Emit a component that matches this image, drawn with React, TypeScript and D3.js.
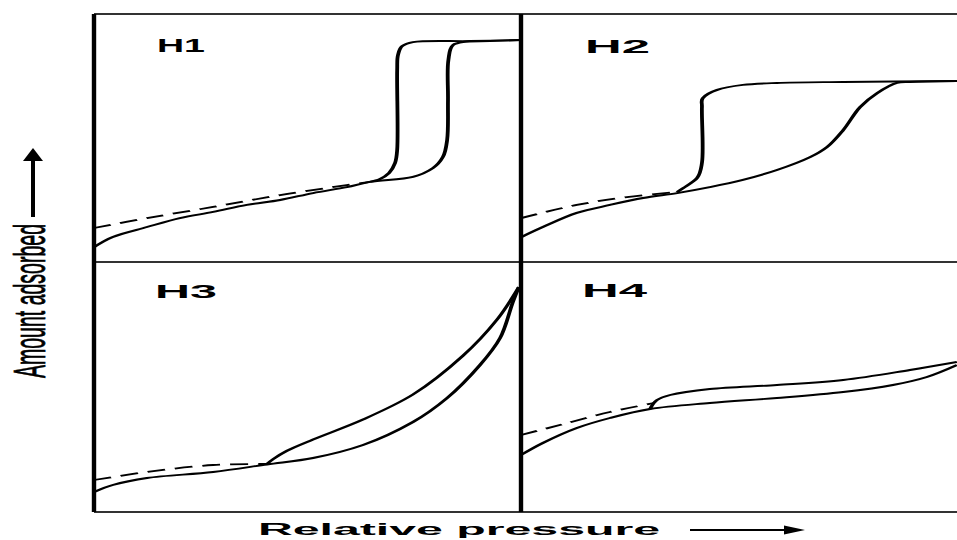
import React from "react";
import * as d3 from "d3";

type Pt = [number, number];

// Panel names (row-major: top-left, top-right, bottom-left, bottom-right)
const panelLabels = ["H1", "H2", "H3", "H4"];

// Axis titles
const xTitle = "Relative pressure";
const yTitle = "Amount adsorbed";

// H1 – relative pressure (0..1) vs amount adsorbed (0..1, panel-relative)
const h1Adsorption: Pt[] = [
  [0, 0.06], [0.044, 0.101], [0.124, 0.141], [0.201, 0.177], [0.279, 0.202],
  [0.358, 0.23], [0.436, 0.25], [0.513, 0.278], [0.592, 0.302], [0.646, 0.323],
  [0.747, 0.343], [0.794, 0.379], [0.817, 0.423], [0.827, 0.492], [0.829, 0.653],
  [0.830, 0.815], [0.841, 0.875], [0.864, 0.887], [0.927, 0.891], [1.0, 0.895],
];
const h1Desorption: Pt[] = [
  [1.0, 0.895], [0.88, 0.891], [0.747, 0.887], [0.722, 0.871], [0.712, 0.835],
  [0.710, 0.774], [0.710, 0.452], [0.705, 0.399], [0.691, 0.359], [0.670, 0.335],
  [0.646, 0.323],
];
const h1Dashed: Pt[] = [
  [0, 0.137], [0.124, 0.177], [0.279, 0.222], [0.436, 0.27], [0.592, 0.31], [0.646, 0.323],
];

// H2
const h2Adsorption: Pt[] = [
  [0, 0.1], [0.05, 0.141], [0.128, 0.198], [0.204, 0.23], [0.28, 0.258],
  [0.358, 0.278], [0.433, 0.302], [0.509, 0.331], [0.587, 0.371], [0.663, 0.423],
  [0.702, 0.464], [0.739, 0.532], [0.778, 0.625], [0.817, 0.681], [0.862, 0.722],
  [0.892, 0.726], [1.0, 0.73],
];
const h2Desorption: Pt[] = [
  [1.0, 0.73], [0.739, 0.726], [0.587, 0.722], [0.509, 0.714], [0.45, 0.694],
  [0.417, 0.661], [0.415, 0.625], [0.415, 0.399], [0.404, 0.339], [0.372, 0.298],
  [0.358, 0.282],
];
const h2Dashed: Pt[] = [
  [0, 0.177], [0.128, 0.23], [0.243, 0.262], [0.358, 0.282],
];

// H3
const h3Adsorption: Pt[] = [
  [0, 0.08], [0.044, 0.108], [0.124, 0.136], [0.279, 0.16], [0.405, 0.19],
  [0.513, 0.216], [0.63, 0.268], [0.747, 0.36], [0.827, 0.456], [0.904, 0.588],
  [0.951, 0.696], [0.981, 0.84], [0.995, 0.9],
];
const h3Desorption: Pt[] = [
  [0.995, 0.9], [0.944, 0.77], [0.864, 0.625], [0.747, 0.47], [0.63, 0.37],
  [0.513, 0.29], [0.452, 0.245], [0.42, 0.212], [0.405, 0.192],
];
const h3Dashed: Pt[] = [
  [0, 0.128], [0.124, 0.16], [0.279, 0.188], [0.405, 0.192],
];

// H4
const h4Adsorption: Pt[] = [
  [0, 0.228], [0.05, 0.276], [0.128, 0.336], [0.204, 0.376], [0.296, 0.412],
  [0.433, 0.436], [0.587, 0.456], [0.739, 0.48], [0.853, 0.508], [0.931, 0.54],
  [1.0, 0.588],
];
const h4Desorption: Pt[] = [
  [1.0, 0.6], [0.892, 0.568], [0.739, 0.528], [0.587, 0.508], [0.433, 0.492],
  [0.342, 0.468], [0.312, 0.448], [0.296, 0.412],
];
const h4Dashed: Pt[] = [
  [0, 0.308], [0.089, 0.348], [0.204, 0.4], [0.305, 0.436],
];

const panelCurves = [
  { ads: h1Adsorption, des: h1Desorption, dash: h1Dashed },
  { ads: h2Adsorption, des: h2Desorption, dash: h2Dashed },
  { ads: h3Adsorption, des: h3Desorption, dash: h3Dashed },
  { ads: h4Adsorption, des: h4Desorption, dash: h4Dashed },
];

// Layout (inner coordinates; the whole drawing is stretched 2x horizontally)
const W = 957;
const H = 540;
const SX = 2;
const colX = [47, 260.5, 478.5];
const rowY = [14, 262, 512];
const labelPos = [
  { x: 78.5, y: 52, len: 24 },
  { x: 292.5, y: 53, len: 32.5 },
  { x: 77.5, y: 298, len: 31 },
  { x: 291, y: 297, len: 32.5 },
];

export default function App() {
  const line = d3
    .line<Pt>()
    .curve(d3.curveCatmullRom.alpha(0.5));

  const panels = panelLabels.map((label, i) => {
    const col = i % 2;
    const row = Math.floor(i / 2);
    const xs = d3.scaleLinear().domain([0, 1]).range([colX[col], colX[col + 1]]);
    const ys = d3.scaleLinear().domain([0, 1]).range([rowY[row + 1], rowY[row]]);
    line.x((d) => xs(d[0])).y((d) => ys(d[1]));
    const c = panelCurves[i];
    return {
      label,
      ads: line(c.ads) || "",
      des: line(c.des) || "",
      dash: line(c.dash) || "",
      lp: labelPos[i],
    };
  });

  return (
    <svg
      width={W}
      height={H}
      style={{ position: "absolute", left: 0, top: 0, background: "#fff" }}
    >
      <rect x={0} y={0} width={W} height={H} fill="#fff" />
      <g transform={`scale(${SX},1)`}>
        {/* horizontal frame lines */}
        {rowY.map((y, k) => (
          <line key={"h" + k} x1={colX[0]} x2={colX[2]} y1={y} y2={y} stroke="#333" strokeWidth={2} />
        ))}
        {/* vertical frame lines */}
        {[colX[0], colX[1]].map((x, k) => (
          <line key={"v" + k} x1={x} x2={x} y1={rowY[0]} y2={rowY[2]} stroke="#000" strokeWidth={2.2} />
        ))}

        {panels.map((p, i) => (
          <g key={i}>
            <path d={p.dash} fill="none" stroke="#000" strokeWidth={1.8} strokeDasharray="9 5" />
            <path d={p.ads} fill="none" stroke="#000" strokeWidth={1.9} />
            <path d={p.des} fill="none" stroke="#000" strokeWidth={1.9} />
            <text
              x={p.lp.x}
              y={p.lp.y}
              fontFamily="Liberation Sans, Arial, sans-serif"
              fontWeight="bold"
              fontSize={18}
              textLength={p.lp.len}
              lengthAdjust="spacingAndGlyphs"
              fill="#000"
            >
              {p.label}
            </text>
          </g>
        ))}

        {/* x axis title */}
        <text
          x={129}
          y={535}
          fontFamily="Liberation Sans, Arial, sans-serif"
          fontWeight="bold"
          fontSize={16}
          textLength={201}
          lengthAdjust="spacingAndGlyphs"
          fill="#000"
        >
          {xTitle}
        </text>
        <line x1={345} x2={395} y1={530} y2={530} stroke="#000" strokeWidth={2} />
        <polygon points="392,525.5 402.5,530 392,534.5" fill="#000" />

        {/* y axis title */}
        <text
          transform="translate(22.5,378) rotate(-90)"
          x={0}
          y={0}
          fontFamily="Liberation Sans, Arial, sans-serif"
          fontSize={22}
          textLength={154}
          lengthAdjust="spacingAndGlyphs"
          fill="#000"
          stroke="#000"
          strokeWidth={0.4}
        >
          {yTitle}
        </text>
        <line x1={16.5} x2={16.5} y1={217} y2={158} stroke="#000" strokeWidth={2} />
        <polygon points="16.5,148 11.5,161 21.5,161" fill="#000" />
      </g>
    </svg>
  );
}
